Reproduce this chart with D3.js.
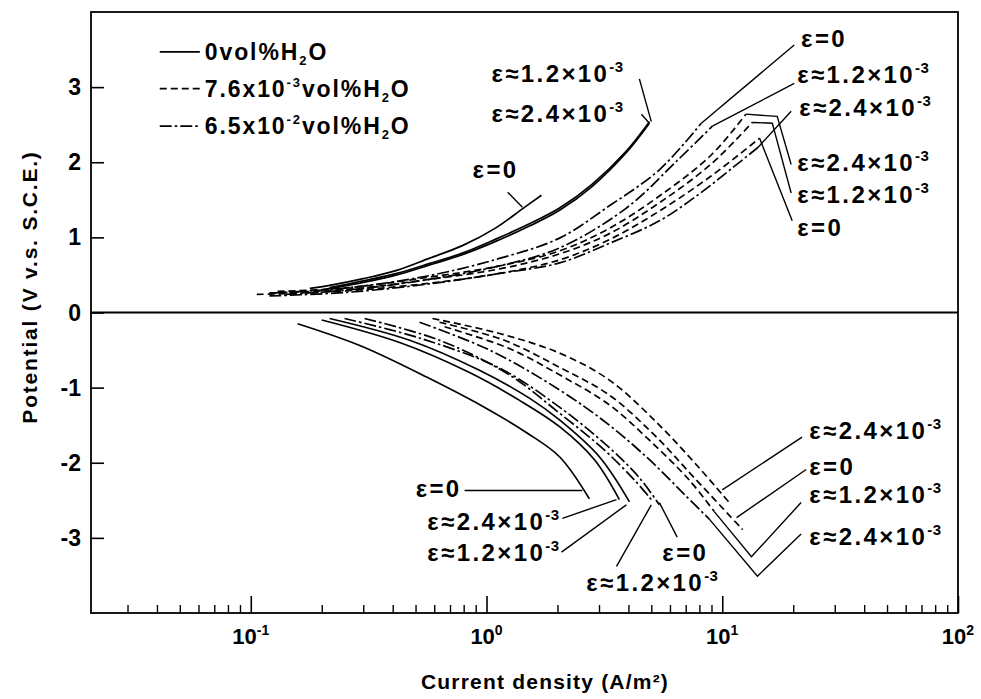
<!DOCTYPE html>
<html>
<head>
<meta charset="utf-8">
<script src="https://cdn.jsdelivr.net/npm/d3@7"></script>
<style>
  html, body { margin: 0; padding: 0; background: #fff; }
  svg { display: block; }
  text { font-family: "Liberation Sans", Arial, Helvetica, sans-serif; fill: #000; }
</style>
</head>
<body>
<svg id="chart" width="981" height="699"></svg>
<script>
// ---------------- DATA (current density A/m², potential V vs SCE) ----------------
// Anodic branch (upper half)
const up_0vol_eps0   = [[0.178,0.32],[0.216,0.36],[0.30,0.45],[0.416,0.56],[0.57,0.72],[0.79,0.89],[1.10,1.13],[1.42,1.38],[1.71,1.56]];
const up_0vol_eps12  = [[0.216,0.33],[0.30,0.42],[0.416,0.52],[0.57,0.65],[0.79,0.79],[1.10,0.98],[1.52,1.18],[2.04,1.39],[2.81,1.71],[3.92,2.15],[4.91,2.54]];
const up_0vol_eps24  = [[0.20,0.30],[0.30,0.40],[0.416,0.50],[0.57,0.63],[0.79,0.77],[1.10,0.95],[1.52,1.15],[2.04,1.36],[2.81,1.68],[3.92,2.13],[4.91,2.52]];
const up_76_eps0     = [[0.106,0.24],[0.26,0.29],[0.57,0.39],[1.135,0.52],[2.04,0.70],[3.32,0.97],[5.41,1.35],[9.0,1.82],[14.4,2.32]];
const up_76_eps12    = [[0.12,0.26],[0.26,0.31],[0.57,0.44],[1.135,0.58],[2.04,0.78],[3.32,1.05],[5.41,1.46],[9.0,1.98],[13.4,2.53]];
const up_76_eps24    = [[0.13,0.28],[0.26,0.33],[0.57,0.47],[1.135,0.62],[2.04,0.82],[3.32,1.12],[5.41,1.55],[9.0,2.10],[12.6,2.64]];
const up_65_eps0     = [[0.126,0.26],[0.26,0.33],[0.57,0.49],[1.135,0.72],[2.04,0.99],[3.32,1.42],[5.41,1.90],[8.15,2.52]];
const up_65_eps12    = [[0.14,0.24],[0.28,0.31],[0.57,0.44],[1.135,0.62],[2.04,0.86],[3.92,1.39],[6.38,2.01],[9.08,2.48]];
const up_65_eps24    = [[0.12,0.22],[0.26,0.27],[0.57,0.38],[1.135,0.52],[2.04,0.66],[3.32,0.92],[5.41,1.22],[8.0,1.58],[11.0,1.92],[14.2,2.20]];
// Cathodic branch (lower half)
const dn_0vol_eps0   = [[0.158,-0.15],[0.29,-0.44],[0.557,-0.86],[1.03,-1.30],[1.48,-1.60],[2.04,-1.92],[2.73,-2.48]];
const dn_0vol_eps24  = [[0.200,-0.10],[0.428,-0.40],[0.847,-0.80],[1.38,-1.17],[2.04,-1.52],[2.87,-1.96],[3.66,-2.49]];
const dn_0vol_eps12  = [[0.216,-0.08],[0.472,-0.37],[0.933,-0.77],[1.52,-1.14],[2.04,-1.43],[3.01,-1.92],[4.04,-2.52]];
const dn_65_eps0     = [[0.250,-0.08],[0.520,-0.34],[1.135,-0.74],[2.04,-1.26],[3.32,-1.80],[4.45,-2.20],[5.41,-2.56]];
const dn_65_eps12    = [[0.304,-0.08],[0.632,-0.37],[1.25,-0.83],[2.04,-1.34],[3.16,-1.83],[4.24,-2.23],[5.0,-2.49]];
const dn_65_eps24    = [[0.520,-0.13],[1.03,-0.50],[2.04,-1.03],[3.32,-1.50],[4.91,-1.96],[6.90,-2.42],[8.81,-2.75]];
const dn_76_eps24    = [[0.590,-0.08],[1.135,-0.28],[2.04,-0.54],[3.32,-0.90],[5.41,-1.50],[7.99,-2.07],[10.9,-2.56]];
const dn_76_eps0     = [[0.632,-0.13],[1.19,-0.37],[2.04,-0.73],[3.32,-1.10],[5.15,-1.63],[7.61,-2.20],[12.2,-2.89]];
const dn_76_eps12    = [[0.664,-0.19],[1.25,-0.48],[2.04,-0.83],[3.32,-1.23],[4.91,-1.70],[7.24,-2.23],[9.25,-2.65]];

const seriesStyles = ["solid", "dashed", "dashdot"];
const legendLabels = [["0vol%H","2","O"], ["7.6x10","-3","vol%H","2","O"], ["6.5x10","-2","vol%H","2","O"]];

// x ticks
const xMajorTicks = [0.1, 1, 10, 100];
const xMajorExp   = ["-1", "0", "1", "2"];
const yTicks      = [3, 2, 1, 0, -1, -2, -3];

// Annotations: [label main, superscript, anchor, x, y, leader polyline] (data coords)
const annotations = [
  ["ε=0", "", "start", 0.873, 1.79, [[1.23,1.60],[1.42,1.40]]],
  ["ε≈1.2×10", "-3", "start", 1.05, 3.07, [[4.45,3.11],[5.0,2.54]]],
  ["ε≈2.4×10", "-3", "start", 1.05, 2.54, [[4.54,2.64],[4.91,2.52]]],
  ["ε=0", "", "start", 21.6, 3.54, [[20.2,3.56],[8.15,2.52]]],
  ["ε≈1.2×10", "-3", "start", 20.8, 3.05, [[20.2,3.05],[9.08,2.48]]],
  ["ε≈2.4×10", "-3", "start", 21.2, 2.62, [[19.6,2.68],[14.2,2.20]]],
  ["ε≈2.4×10", "-3", "start", 20.8, 1.88, [[19.6,1.97],[17.1,2.61],[12.6,2.64]]],
  ["ε≈1.2×10", "-3", "start", 20.8, 1.46, [[19.6,1.59],[16.3,2.52],[13.4,2.53]]],
  ["ε=0", "", "start", 20.8, 1.02, [[19.8,1.22],[14.4,2.32]]],
  ["ε=0", "", "end", 0.784, -2.46, [[0.807,-2.37],[2.55,-2.37]]],
  ["ε≈2.4×10", "-3", "end", 2.04, -2.89, [[2.10,-2.74],[3.56,-2.49]]],
  ["ε≈1.2×10", "-3", "end", 2.04, -3.31, [[2.08,-3.19],[3.92,-2.56]]],
  ["ε=0", "", "start", 5.57, -3.31, [[6.44,-2.99],[5.41,-2.53]]],
  ["ε≈1.2×10", "-3", "start", 2.65, -3.71, [[3.56,-3.38],[5.0,-2.56]]],
  ["ε≈2.4×10", "-3", "start", 23.4, -1.68, [[21.8,-1.66],[10.0,-2.36]]],
  ["ε=0", "", "start", 23.4, -2.16, [[22.7,-2.09],[11.5,-2.73]]],
  ["ε≈1.2×10", "-3", "start", 23.4, -2.54, [[21.6,-2.53],[13.3,-3.25],[9.25,-2.65]]],
  ["ε≈2.4×10", "-3", "start", 23.4, -3.09, [[21.6,-2.95],[14.1,-3.51],[8.81,-2.75]]]
];

// ---------------- DRAWING ----------------
const svg = d3.select("#chart");
const L = 91, R = 958, T = 12, B = 613;
const x = d3.scaleLog().domain([0.021, 100]).range([L, R]);
const y = d3.scaleLinear().domain([-4, 4]).range([B, T]);

const dashFor = { solid: null, dashed: "7,4", dashdot: "12,3,2.5,3" };
const curves = [
  [up_0vol_eps0, "solid"], [up_0vol_eps12, "solid"], [up_0vol_eps24, "solid"],
  [up_76_eps0, "dashed"], [up_76_eps12, "dashed"], [up_76_eps24, "dashed"],
  [up_65_eps0, "dashdot"], [up_65_eps12, "dashdot"], [up_65_eps24, "dashdot"],
  [dn_0vol_eps0, "solid"], [dn_0vol_eps24, "solid"], [dn_0vol_eps12, "solid"],
  [dn_65_eps0, "dashdot"], [dn_65_eps12, "dashdot"], [dn_65_eps24, "dashdot"],
  [dn_76_eps24, "dashed"], [dn_76_eps0, "dashed"], [dn_76_eps12, "dashed"]
];

const line = d3.line().x(d => x(d[0])).y(d => y(d[1])).curve(d3.curveCatmullRom.alpha(0.5));
const straight = d3.line().x(d => x(d[0])).y(d => y(d[1]));

// frame
svg.append("rect").attr("x", L).attr("y", T).attr("width", R - L).attr("height", B - T)
  .attr("fill", "none").attr("stroke", "#000").attr("stroke-width", 1.8);

// bottom axis ticks (inside)
const xAxis = d3.axisBottom(x).tickValues(x.ticks().filter(v => !xMajorTicks.includes(v) && v > 0.021))
  .tickSizeInner(-8).tickSizeOuter(0).tickFormat("");
svg.append("g").attr("transform", `translate(0,${B})`).call(xAxis)
  .call(g => g.select(".domain").remove())
  .call(g => g.selectAll("line").attr("stroke-width", 1.4));
const xAxisMaj = d3.axisBottom(x).tickValues(xMajorTicks).tickSizeInner(-17).tickSizeOuter(0).tickFormat("");
svg.append("g").attr("transform", `translate(0,${B})`).call(xAxisMaj)
  .call(g => g.select(".domain").remove())
  .call(g => g.selectAll("line").attr("stroke-width", 1.6));

// x tick labels
const xl = svg.append("g");
xMajorTicks.forEach((v, i) => {
  const t = xl.append("text").attr("x", x(v)).attr("y", B + 31)
    .attr("text-anchor", "middle").attr("font-size", 22).attr("font-weight", "bold");
  t.append("tspan").text("10");
  t.append("tspan").attr("dy", -9).attr("font-size", 14).text(xMajorExp[i]);
});

// left axis ticks (inside)
const yAxis = d3.axisLeft(y).tickValues(yTicks).tickSizeInner(-13).tickSizeOuter(0).tickFormat("");
svg.append("g").attr("transform", `translate(${L},0)`).call(yAxis)
  .call(g => g.select(".domain").remove())
  .call(g => g.selectAll("line").attr("stroke-width", 1.6));
svg.append("g").selectAll("text").data(yTicks).join("text")
  .attr("x", 81).attr("y", d => y(d) + 8).attr("text-anchor", "end")
  .attr("font-size", 23).attr("font-weight", "bold").text(d => d);

// zero line
svg.append("line").attr("x1", L).attr("x2", R).attr("y1", y(0)).attr("y2", y(0))
  .attr("stroke", "#000").attr("stroke-width", 2);

// curves
svg.append("g").selectAll("path").data(curves).join("path")
  .attr("d", d => line(d[0])).attr("fill", "none").attr("stroke", "#000")
  .attr("stroke-width", 1.7).attr("stroke-dasharray", d => dashFor[d[1]]);

// annotations
const ag = svg.append("g");
annotations.forEach(a => {
  ag.append("path").attr("d", straight(a[5])).attr("fill", "none")
    .attr("stroke", "#000").attr("stroke-width", 1.4);
  const t = ag.append("text").attr("x", x(a[3])).attr("y", y(a[4]))
    .attr("text-anchor", a[2]).attr("font-size", 24).attr("font-weight", "bold")
    .attr("letter-spacing", 2.4);
  t.append("tspan").text(a[0]);
  if (a[1]) t.append("tspan").attr("dy", -10).attr("font-size", 15).attr("letter-spacing", 0.5).text(a[1]);
});

// legend
const lg = svg.append("g");
const legY = [3.47, 2.98, 2.48];
seriesStyles.forEach((s, i) => {
  lg.append("line").attr("x1", x(0.0411)).attr("x2", x(0.0608))
    .attr("y1", y(legY[i])).attr("y2", y(legY[i]))
    .attr("stroke", "#000").attr("stroke-width", 1.7).attr("stroke-dasharray", dashFor[s]);
  const t = lg.append("text").attr("x", x(0.0638)).attr("y", y(legY[i]) + 8)
    .attr("font-size", 23).attr("font-weight", "bold").attr("letter-spacing", 1.9);
  const parts = legendLabels[i];
  if (parts.length === 3) {
    t.append("tspan").text(parts[0]);
    t.append("tspan").attr("dy", 5).attr("font-size", 13).text(parts[1]);
    t.append("tspan").attr("dy", -5).text(parts[2]);
  } else {
    t.append("tspan").text(parts[0]);
    t.append("tspan").attr("dy", -10).attr("font-size", 13).text(parts[1]);
    t.append("tspan").attr("dy", 10).text(parts[2]);
    t.append("tspan").attr("dy", 5).attr("font-size", 13).text(parts[3]);
    t.append("tspan").attr("dy", -5).text(parts[4]);
  }
});

// axis titles
svg.append("text").attr("x", 545).attr("y", 689).attr("text-anchor", "middle")
  .attr("font-size", 21).attr("font-weight", "bold").attr("letter-spacing", 1.2)
  .text("Current density (A/m²)");
svg.append("text").attr("transform", "translate(37,287) rotate(-90)").attr("text-anchor", "middle")
  .attr("font-size", 21).attr("font-weight", "bold").attr("letter-spacing", 1.8)
  .text("Potential (V v.s. S.C.E.)");
</script>
</body>
</html>
